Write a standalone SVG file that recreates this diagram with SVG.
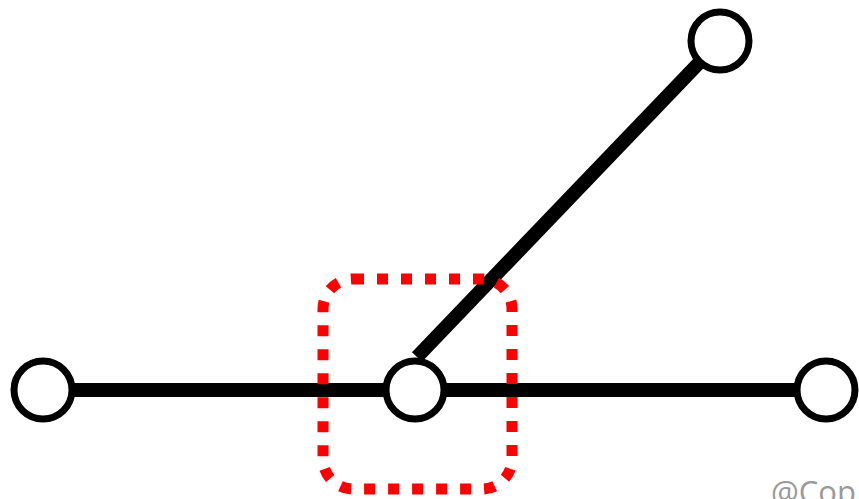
<svg xmlns="http://www.w3.org/2000/svg" width="859" height="499" viewBox="0 0 859 499">
<style>
.node{fill:#fff;stroke:#000;stroke-width:7}
.edge{stroke:#000;stroke-width:14;fill:none}
.hl{fill:none;stroke:#f00;stroke-width:11;stroke-dasharray:11 13}
.wm{font-family:"Open Sans","Noto Sans",sans-serif;font-size:31px;fill:#999}
</style>
<rect width="859" height="499" fill="#fff"/>
<g id="connectors">
<line class="edge" x1="43" y1="390" x2="826" y2="390"/>
<line class="edge" x1="720" y1="41" x2="417" y2="357"/>
</g>
<g id="highlight"><rect class="hl" x="323" y="279" width="189" height="210" rx="30" ry="30"/></g>
<g id="n-left"><circle class="node" cx="43" cy="390" r="29"/></g>
<g id="n-center"><circle class="node" cx="415" cy="390" r="29"/></g>
<g id="n-right"><circle class="node" cx="826" cy="390" r="29"/></g>
<g id="n-top"><circle class="node" cx="720" cy="41" r="29"/></g>
<text class="wm" x="771" y="503">@Cop</text>
</svg>
